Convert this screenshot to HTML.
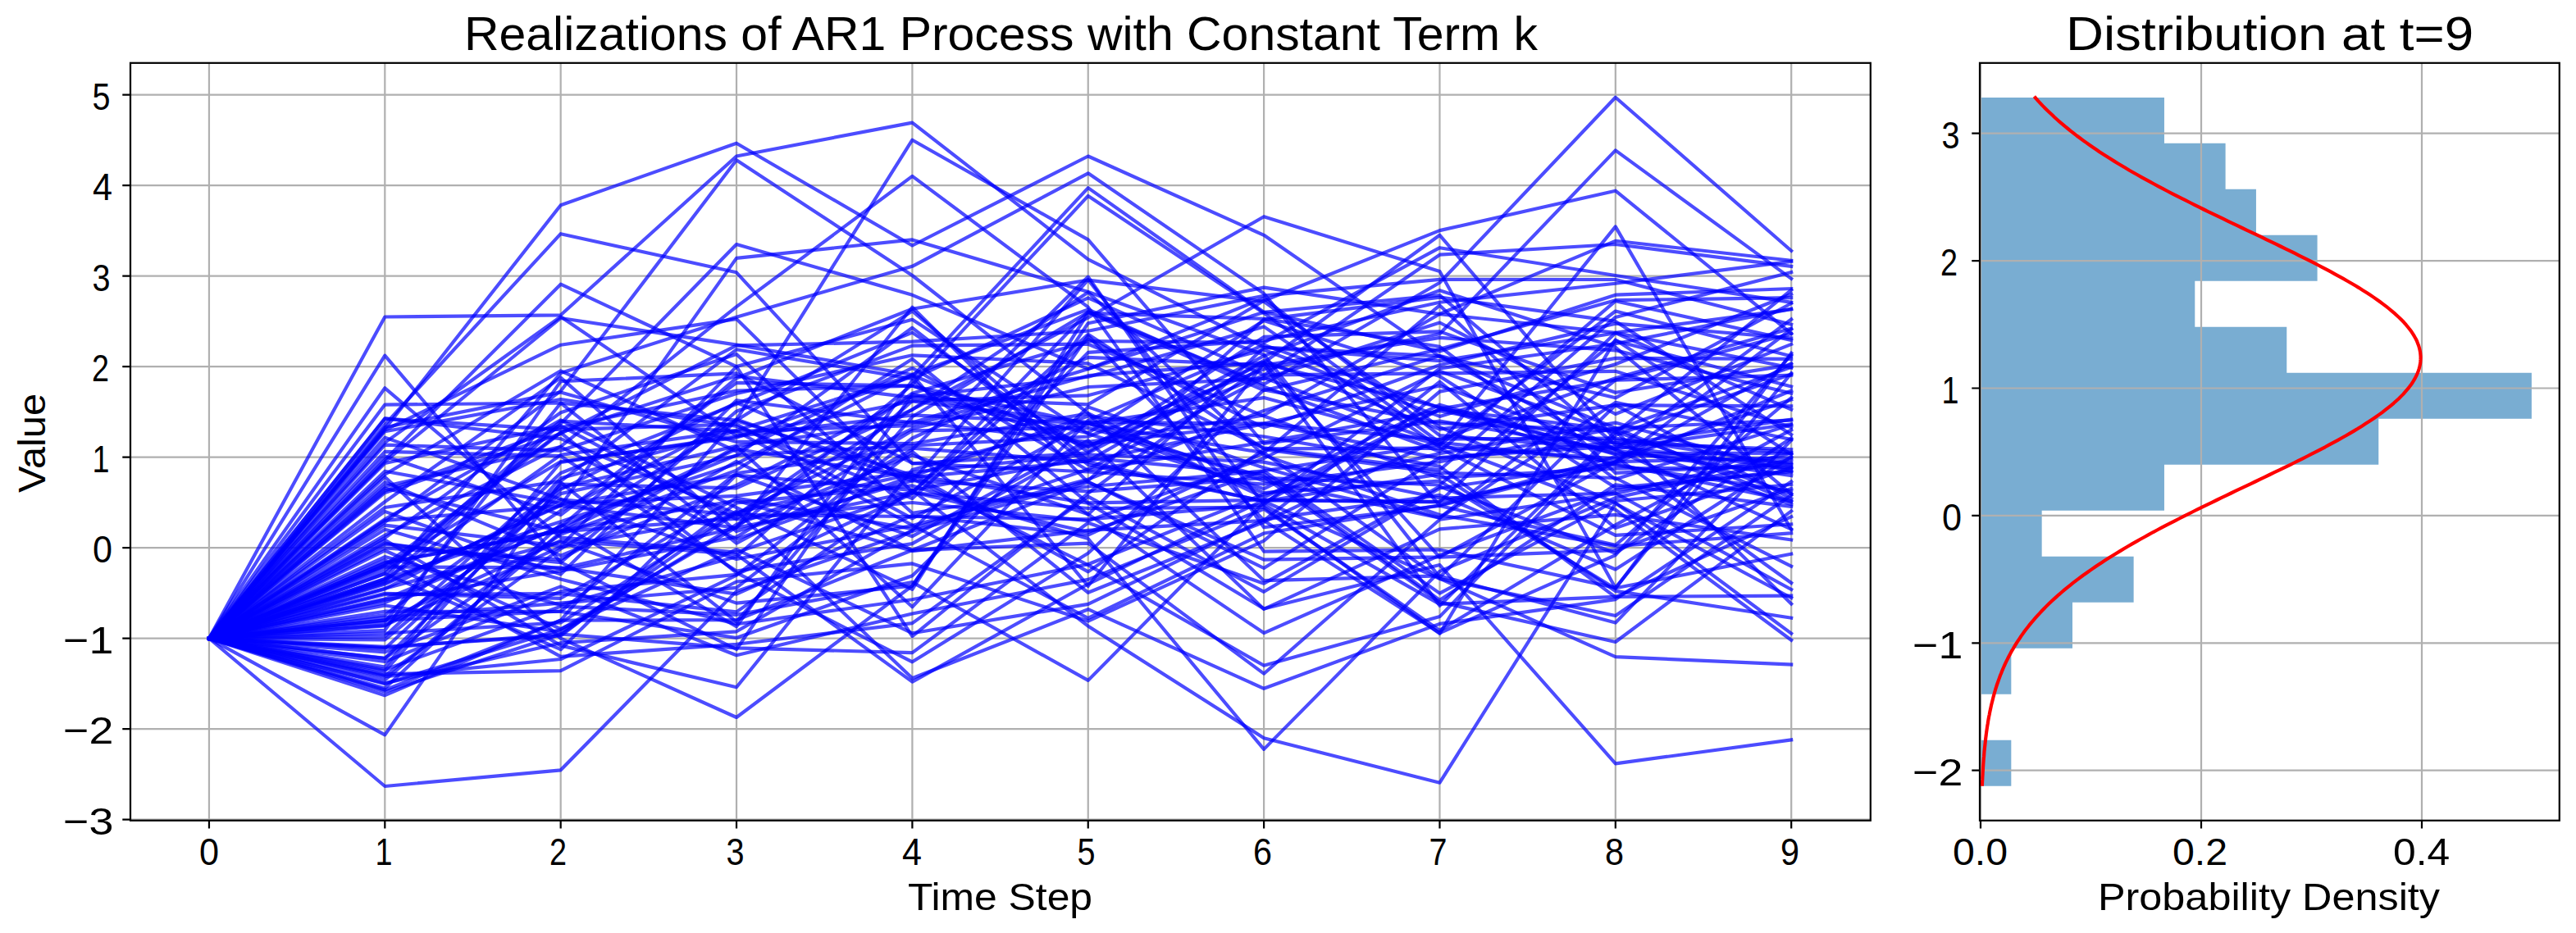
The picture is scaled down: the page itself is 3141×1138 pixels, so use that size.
<!DOCTYPE html><html><head><meta charset="utf-8"><style>html,body{margin:0;padding:0;background:#fff;overflow:hidden}svg{display:block}text{font-family:"Liberation Sans",sans-serif;fill:#000}</style></head><body>
<svg width="3141" height="1138" viewBox="0 0 3141 1138">
<rect width="3141" height="1138" fill="#fff"/>
<defs><clipPath id="c1"><rect x="159.0" y="76.8" width="2121.8" height="924.0"/></clipPath><clipPath id="c2"><rect x="2414.0" y="76.8" width="706.8000000000002" height="924.0"/></clipPath></defs>
<path d="M254.95 76.8V1000.8M469.31 76.8V1000.8M683.67 76.8V1000.8M898.03 76.8V1000.8M1112.39 76.8V1000.8M1326.75 76.8V1000.8M1541.11 76.8V1000.8M1755.47 76.8V1000.8M1969.83 76.8V1000.8M2184.19 76.8V1000.8M159.0 999.60H2280.8M159.0 889.10H2280.8M159.0 778.60H2280.8M159.0 668.10H2280.8M159.0 557.60H2280.8M159.0 447.10H2280.8M159.0 336.60H2280.8M159.0 226.10H2280.8M159.0 115.60H2280.8" stroke="#b0b0b0" stroke-width="2.22" fill="none" stroke-linecap="butt"/>
<g clip-path="url(#c1)" fill="none" stroke="#0000ff" stroke-opacity="0.7" stroke-width="4.17" stroke-linejoin="round" stroke-linecap="square">
<path d="M254.9 778.6 L469.3 386.5 L683.7 384.3 L898.0 190.5 L1112.4 149.6 L1326.8 316.3 L1541.1 423.5 L1755.5 434.4 L1969.8 522.1 L2184.2 611.9"/>
<path d="M254.9 778.6 L469.3 523.3 L683.7 250.2 L898.0 174.7 L1112.4 299.5 L1326.8 190.5 L1541.1 286.8 L1755.5 434.9 L1969.8 548.3 L2184.2 645.6"/>
<path d="M254.9 778.6 L469.3 636.9 L683.7 476.9 L898.0 195.3 L1112.4 336.0 L1326.8 504.2 L1541.1 606.8 L1755.5 498.6 L1969.8 463.6 L2184.2 457.6"/>
<path d="M254.9 778.6 L469.3 517.8 L683.7 285.2 L898.0 332.3 L1112.4 565.3 L1326.8 552.4 L1541.1 441.9 L1755.5 679.6 L1969.8 671.1 L2184.2 595.9"/>
<path d="M254.9 778.6 L469.3 763.4 L683.7 622.9 L898.0 512.0 L1112.4 170.7 L1326.8 292.4 L1541.1 541.0 L1755.5 513.5 L1969.8 549.2 L2184.2 580.1"/>
<path d="M254.9 778.6 L469.3 652.9 L683.7 544.6 L898.0 374.2 L1112.4 214.9 L1326.8 374.6 L1541.1 672.6 L1755.5 670.5 L1969.8 716.9 L2184.2 455.2"/>
<path d="M254.9 778.6 L469.3 709.2 L683.7 516.7 L898.0 298.0 L1112.4 359.8 L1326.8 450.1 L1541.1 363.6 L1755.5 531.2 L1969.8 547.2 L2184.2 517.3"/>
<path d="M254.9 778.6 L469.3 634.8 L683.7 616.9 L898.0 314.9 L1112.4 292.4 L1326.8 356.0 L1541.1 432.6 L1755.5 704.1 L1969.8 494.2 L2184.2 495.4"/>
<path d="M254.9 778.6 L469.3 706.1 L683.7 455.1 L898.0 386.8 L1112.4 324.8 L1326.8 211.3 L1541.1 358.0 L1755.5 616.8 L1969.8 563.2 L2184.2 443.2"/>
<path d="M254.9 778.6 L469.3 690.3 L683.7 563.0 L898.0 533.8 L1112.4 459.3 L1326.8 229.1 L1541.1 380.8 L1755.5 360.1 L1969.8 542.7 L2184.2 511.7"/>
<path d="M254.9 778.6 L469.3 711.3 L683.7 616.7 L898.0 643.7 L1112.4 469.2 L1326.8 238.9 L1541.1 381.9 L1755.5 539.7 L1969.8 563.6 L2184.2 401.5"/>
<path d="M254.9 778.6 L469.3 595.4 L683.7 648.3 L898.0 632.6 L1112.4 499.5 L1326.8 387.5 L1541.1 264.2 L1755.5 331.1 L1969.8 717.3 L2184.2 675.7"/>
<path d="M254.9 778.6 L469.3 689.4 L683.7 527.2 L898.0 458.6 L1112.4 484.9 L1326.8 493.4 L1541.1 366.7 L1755.5 281.1 L1969.8 232.7 L2184.2 406.7"/>
<path d="M254.9 778.6 L469.3 699.6 L683.7 513.6 L898.0 526.0 L1112.4 519.1 L1326.8 458.2 L1541.1 442.2 L1755.5 286.8 L1969.8 536.6 L2184.2 552.0"/>
<path d="M254.9 778.6 L469.3 762.7 L683.7 667.2 L898.0 628.5 L1112.4 479.7 L1326.8 416.0 L1541.1 418.0 L1755.5 302.2 L1969.8 336.0 L2184.2 368.8"/>
<path d="M254.9 778.6 L469.3 707.7 L683.7 554.9 L898.0 524.9 L1112.4 457.8 L1326.8 544.3 L1541.1 457.7 L1755.5 310.7 L1969.8 298.0 L2184.2 324.8"/>
<path d="M254.9 778.6 L469.3 807.0 L683.7 721.4 L898.0 700.8 L1112.4 602.0 L1326.8 380.2 L1541.1 468.8 L1755.5 344.8 L1969.8 118.7 L2184.2 305.9"/>
<path d="M254.9 778.6 L469.3 735.1 L683.7 642.0 L898.0 555.4 L1112.4 543.5 L1326.8 532.5 L1541.1 450.4 L1755.5 407.3 L1969.8 183.4 L2184.2 339.9"/>
<path d="M254.9 778.6 L469.3 662.5 L683.7 693.8 L898.0 643.7 L1112.4 600.3 L1326.8 649.0 L1541.1 574.2 L1755.5 542.1 L1969.8 276.4 L2184.2 646.0"/>
<path d="M254.9 778.6 L469.3 750.1 L683.7 594.9 L898.0 543.9 L1112.4 514.2 L1326.8 539.0 L1541.1 506.5 L1755.5 383.0 L1969.8 293.8 L2184.2 317.8"/>
<path d="M254.9 778.6 L469.3 560.9 L683.7 346.7 L898.0 447.1 L1112.4 776.1 L1326.8 601.5 L1541.1 444.7 L1755.5 738.7 L1969.8 526.2 L2184.2 602.7"/>
<path d="M254.9 778.6 L469.3 563.1 L683.7 388.0 L898.0 420.6 L1112.4 457.0 L1326.8 714.8 L1541.1 443.5 L1755.5 496.7 L1969.8 553.3 L2184.2 552.7"/>
<path d="M254.9 778.6 L469.3 524.5 L683.7 420.7 L898.0 389.1 L1112.4 600.1 L1326.8 407.8 L1541.1 547.4 L1755.5 546.7 L1969.8 652.9 L2184.2 639.4"/>
<path d="M254.9 778.6 L469.3 433.6 L683.7 685.8 L898.0 792.0 L1112.4 480.9 L1326.8 528.1 L1541.1 390.9 L1755.5 459.0 L1969.8 594.8 L2184.2 575.6"/>
<path d="M254.9 778.6 L469.3 473.3 L683.7 655.5 L898.0 673.7 L1112.4 601.2 L1326.8 620.0 L1541.1 618.7 L1755.5 772.9 L1969.8 414.4 L2184.2 554.4"/>
<path d="M254.9 778.6 L469.3 493.6 L683.7 491.5 L898.0 662.7 L1112.4 548.4 L1326.8 337.6 L1541.1 643.2 L1755.5 617.0 L1969.8 664.9 L2184.2 485.3"/>
<path d="M254.9 778.6 L469.3 510.7 L683.7 524.2 L898.0 517.4 L1112.4 632.3 L1326.8 516.4 L1541.1 601.2 L1755.5 586.7 L1969.8 718.0 L2184.2 430.6"/>
<path d="M254.9 778.6 L469.3 539.9 L683.7 386.3 L898.0 531.5 L1112.4 489.4 L1326.8 515.1 L1541.1 586.4 L1755.5 631.7 L1969.8 490.9 L2184.2 536.1"/>
<path d="M254.9 778.6 L469.3 959.0 L683.7 939.3 L898.0 721.1 L1112.4 647.9 L1326.8 586.3 L1541.1 389.6 L1755.5 362.6 L1969.8 391.9 L2184.2 530.2"/>
<path d="M254.9 778.6 L469.3 896.4 L683.7 588.5 L898.0 758.4 L1112.4 508.3 L1326.8 380.9 L1541.1 476.2 L1755.5 425.8 L1969.8 366.2 L2184.2 363.1"/>
<path d="M254.9 778.6 L469.3 848.2 L683.7 756.5 L898.0 511.4 L1112.4 586.7 L1326.8 341.2 L1541.1 615.3 L1755.5 449.4 L1969.8 419.3 L2184.2 376.8"/>
<path d="M254.9 778.6 L469.3 581.8 L683.7 778.6 L898.0 875.0 L1112.4 714.5 L1326.8 409.5 L1541.1 634.8 L1755.5 465.6 L1969.8 644.1 L2184.2 570.1"/>
<path d="M254.9 778.6 L469.3 658.6 L683.7 787.4 L898.0 838.3 L1112.4 573.1 L1326.8 514.8 L1541.1 516.6 L1755.5 559.1 L1969.8 539.6 L2184.2 615.3"/>
<path d="M254.9 778.6 L469.3 816.8 L683.7 739.6 L898.0 749.9 L1112.4 710.1 L1326.8 829.9 L1541.1 612.9 L1755.5 499.4 L1969.8 524.0 L2184.2 447.8"/>
<path d="M254.9 778.6 L469.3 790.0 L683.7 773.5 L898.0 790.3 L1112.4 796.1 L1326.8 637.7 L1541.1 711.7 L1755.5 593.4 L1969.8 674.7 L2184.2 534.4"/>
<path d="M254.9 778.6 L469.3 695.9 L683.7 527.8 L898.0 698.6 L1112.4 807.3 L1326.8 674.7 L1541.1 475.4 L1755.5 516.1 L1969.8 525.6 L2184.2 736.5"/>
<path d="M254.9 778.6 L469.3 756.4 L683.7 659.3 L898.0 676.2 L1112.4 831.6 L1326.8 712.3 L1541.1 610.1 L1755.5 612.3 L1969.8 405.9 L2184.2 448.6"/>
<path d="M254.9 778.6 L469.3 772.5 L683.7 759.4 L898.0 623.5 L1112.4 827.2 L1326.8 743.2 L1541.1 839.8 L1755.5 760.9 L1969.8 731.1 L2184.2 587.5"/>
<path d="M254.9 778.6 L469.3 788.8 L683.7 775.5 L898.0 613.4 L1112.4 592.4 L1326.8 657.1 L1541.1 913.9 L1755.5 696.8 L1969.8 607.1 L2184.2 560.3"/>
<path d="M254.9 778.6 L469.3 712.5 L683.7 615.7 L898.0 579.5 L1112.4 597.9 L1326.8 763.7 L1541.1 900.2 L1755.5 954.7 L1969.8 614.0 L2184.2 729.3"/>
<path d="M254.9 778.6 L469.3 668.4 L683.7 682.5 L898.0 562.8 L1112.4 671.1 L1326.8 662.6 L1541.1 821.7 L1755.5 633.8 L1969.8 602.2 L2184.2 552.8"/>
<path d="M254.9 778.6 L469.3 802.9 L683.7 597.0 L898.0 491.0 L1112.4 583.8 L1326.8 689.1 L1541.1 811.8 L1755.5 752.1 L1969.8 530.7 L2184.2 456.4"/>
<path d="M254.9 778.6 L469.3 686.8 L683.7 647.1 L898.0 610.5 L1112.4 672.1 L1326.8 646.9 L1541.1 635.0 L1755.5 772.0 L1969.8 677.2 L2184.2 432.6"/>
<path d="M254.9 778.6 L469.3 686.3 L683.7 648.1 L898.0 513.2 L1112.4 579.5 L1326.8 613.6 L1541.1 742.4 L1755.5 689.1 L1969.8 931.4 L2184.2 902.4"/>
<path d="M254.9 778.6 L469.3 598.8 L683.7 521.5 L898.0 476.5 L1112.4 470.7 L1326.8 517.0 L1541.1 552.3 L1755.5 705.7 L1969.8 801.1 L2184.2 810.6"/>
<path d="M254.9 778.6 L469.3 731.6 L683.7 696.4 L898.0 655.0 L1112.4 525.3 L1326.8 521.7 L1541.1 581.5 L1755.5 734.4 L1969.8 783.0 L2184.2 623.3"/>
<path d="M254.9 778.6 L469.3 756.6 L683.7 745.5 L898.0 577.2 L1112.4 546.7 L1326.8 563.5 L1541.1 611.5 L1755.5 705.9 L1969.8 751.0 L2184.2 604.0"/>
<path d="M254.9 778.6 L469.3 718.4 L683.7 609.4 L898.0 627.9 L1112.4 630.0 L1326.8 633.4 L1541.1 615.6 L1755.5 736.9 L1969.8 727.8 L2184.2 726.7"/>
<path d="M254.9 778.6 L469.3 723.8 L683.7 729.8 L898.0 607.5 L1112.4 645.1 L1326.8 572.3 L1541.1 460.7 L1755.5 541.0 L1969.8 621.7 L2184.2 780.8"/>
<path d="M254.9 778.6 L469.3 843.8 L683.7 773.8 L898.0 625.0 L1112.4 578.3 L1326.8 697.4 L1541.1 548.1 L1755.5 576.6 L1969.8 583.0 L2184.2 690.8"/>
<path d="M254.9 778.6 L469.3 839.4 L683.7 639.4 L898.0 764.3 L1112.4 463.9 L1326.8 627.5 L1541.1 424.0 L1755.5 440.2 L1969.8 406.2 L2184.2 499.5"/>
<path d="M254.9 778.6 L469.3 833.9 L683.7 767.7 L898.0 643.3 L1112.4 374.7 L1326.8 588.2 L1541.1 682.6 L1755.5 679.3 L1969.8 563.1 L2184.2 558.4"/>
<path d="M254.9 778.6 L469.3 829.4 L683.7 649.4 L898.0 547.7 L1112.4 582.2 L1326.8 562.5 L1541.1 517.0 L1755.5 536.2 L1969.8 461.2 L2184.2 400.5"/>
<path d="M254.9 778.6 L469.3 823.9 L683.7 669.4 L898.0 544.6 L1112.4 740.3 L1326.8 512.8 L1541.1 420.6 L1755.5 497.4 L1969.8 567.5 L2184.2 598.9"/>
<path d="M254.9 778.6 L469.3 818.4 L683.7 583.2 L898.0 526.0 L1112.4 640.5 L1326.8 754.0 L1541.1 650.5 L1755.5 616.2 L1969.8 556.9 L2184.2 711.0"/>
<path d="M254.9 778.6 L469.3 542.7 L683.7 549.6 L898.0 479.9 L1112.4 433.3 L1326.8 443.3 L1541.1 546.4 L1755.5 573.2 L1969.8 386.9 L2184.2 332.0"/>
<path d="M254.9 778.6 L469.3 565.0 L683.7 519.3 L898.0 633.4 L1112.4 613.0 L1326.8 635.2 L1541.1 559.0 L1755.5 452.8 L1969.8 528.1 L2184.2 353.8"/>
<path d="M254.9 778.6 L469.3 550.9 L683.7 556.2 L898.0 696.6 L1112.4 663.1 L1326.8 541.8 L1541.1 516.5 L1755.5 470.5 L1969.8 548.0 L2184.2 389.5"/>
<path d="M254.9 778.6 L469.3 745.7 L683.7 745.9 L898.0 778.0 L1112.4 702.2 L1326.8 496.4 L1541.1 570.6 L1755.5 631.6 L1969.8 463.6 L2184.2 407.1"/>
<path d="M254.9 778.6 L469.3 619.0 L683.7 586.9 L898.0 426.3 L1112.4 462.0 L1326.8 363.3 L1541.1 457.3 L1755.5 455.4 L1969.8 452.8 L2184.2 521.2"/>
<path d="M254.9 778.6 L469.3 679.1 L683.7 737.9 L898.0 679.0 L1112.4 488.9 L1326.8 482.3 L1541.1 426.8 L1755.5 507.9 L1969.8 444.3 L2184.2 358.8"/>
<path d="M254.9 778.6 L469.3 738.5 L683.7 770.8 L898.0 639.7 L1112.4 555.2 L1326.8 627.3 L1541.1 772.1 L1755.5 677.3 L1969.8 597.7 L2184.2 573.7"/>
<path d="M254.9 778.6 L469.3 706.1 L683.7 636.2 L898.0 565.7 L1112.4 456.8 L1326.8 377.4 L1541.1 471.6 L1755.5 550.7 L1969.8 367.2 L2184.2 414.9"/>
<path d="M254.9 778.6 L469.3 813.5 L683.7 564.0 L898.0 532.1 L1112.4 506.4 L1326.8 516.4 L1541.1 485.1 L1755.5 542.8 L1969.8 379.5 L2184.2 434.5"/>
<path d="M254.9 778.6 L469.3 822.1 L683.7 818.2 L898.0 709.5 L1112.4 687.4 L1326.8 757.6 L1541.1 659.6 L1755.5 477.6 L1969.8 436.9 L2184.2 437.8"/>
<path d="M254.9 778.6 L469.3 600.9 L683.7 528.9 L898.0 421.4 L1112.4 416.7 L1326.8 403.7 L1541.1 360.7 L1755.5 340.8 L1969.8 341.0 L2184.2 395.8"/>
<path d="M254.9 778.6 L469.3 691.5 L683.7 692.4 L898.0 724.6 L1112.4 628.7 L1326.8 652.7 L1541.1 552.4 L1755.5 372.4 L1969.8 576.9 L2184.2 566.0"/>
<path d="M254.9 778.6 L469.3 645.8 L683.7 706.4 L898.0 761.3 L1112.4 731.2 L1326.8 688.3 L1541.1 602.7 L1755.5 553.1 L1969.8 515.6 L2184.2 575.7"/>
<path d="M254.9 778.6 L469.3 578.7 L683.7 452.3 L898.0 550.5 L1112.4 448.8 L1326.8 573.8 L1541.1 539.4 L1755.5 501.1 L1969.8 540.0 L2184.2 548.2"/>
<path d="M254.9 778.6 L469.3 833.4 L683.7 784.2 L898.0 770.3 L1112.4 646.9 L1326.8 429.9 L1541.1 415.5 L1755.5 368.8 L1969.8 345.7 L2184.2 318.9"/>
<path d="M254.9 778.6 L469.3 768.8 L683.7 465.1 L898.0 455.4 L1112.4 565.0 L1326.8 575.5 L1541.1 590.5 L1755.5 563.3 L1969.8 522.4 L2184.2 512.4"/>
<path d="M254.9 778.6 L469.3 663.8 L683.7 686.2 L898.0 501.7 L1112.4 421.6 L1326.8 419.7 L1541.1 507.5 L1755.5 582.7 L1969.8 571.3 L2184.2 570.2"/>
<path d="M254.9 778.6 L469.3 633.3 L683.7 512.3 L898.0 619.1 L1112.4 718.9 L1326.8 381.9 L1541.1 388.8 L1755.5 422.8 L1969.8 584.6 L2184.2 518.0"/>
<path d="M254.9 778.6 L469.3 717.8 L683.7 660.9 L898.0 735.6 L1112.4 714.7 L1326.8 394.2 L1541.1 350.6 L1755.5 383.1 L1969.8 405.7 L2184.2 377.3"/>
<path d="M254.9 778.6 L469.3 574.7 L683.7 614.0 L898.0 604.9 L1112.4 575.7 L1326.8 554.5 L1541.1 563.6 L1755.5 607.5 L1969.8 601.5 L2184.2 719.0"/>
<path d="M254.9 778.6 L469.3 656.1 L683.7 503.3 L898.0 432.1 L1112.4 625.8 L1326.8 593.5 L1541.1 574.4 L1755.5 723.6 L1969.8 611.0 L2184.2 590.9"/>
<path d="M254.9 778.6 L469.3 795.4 L683.7 715.4 L898.0 799.3 L1112.4 748.5 L1326.8 706.9 L1541.1 620.8 L1755.5 768.9 L1969.8 640.4 L2184.2 524.3"/>
<path d="M254.9 778.6 L469.3 776.1 L683.7 577.0 L898.0 492.8 L1112.4 405.6 L1326.8 551.2 L1541.1 410.9 L1755.5 404.4 L1969.8 478.8 L2184.2 444.9"/>
<path d="M254.9 778.6 L469.3 593.1 L683.7 545.0 L898.0 657.6 L1112.4 580.8 L1326.8 507.5 L1541.1 532.5 L1755.5 568.9 L1969.8 728.4 L2184.2 630.2"/>
<path d="M254.9 778.6 L469.3 623.9 L683.7 700.6 L898.0 488.3 L1112.4 515.6 L1326.8 449.9 L1541.1 380.7 L1755.5 428.4 L1969.8 359.7 L2184.2 352.1"/>
<path d="M254.9 778.6 L469.3 841.6 L683.7 756.7 L898.0 756.2 L1112.4 671.0 L1326.8 587.7 L1541.1 693.0 L1755.5 558.0 L1969.8 544.5 L2184.2 570.9"/>
<path d="M254.9 778.6 L469.3 526.2 L683.7 487.0 L898.0 519.9 L1112.4 608.0 L1326.8 413.5 L1541.1 521.6 L1755.5 445.2 L1969.8 394.6 L2184.2 412.4"/>
<path d="M254.9 778.6 L469.3 612.0 L683.7 460.6 L898.0 648.1 L1112.4 586.2 L1326.8 599.4 L1541.1 582.9 L1755.5 591.5 L1969.8 415.7 L2184.2 471.4"/>
<path d="M254.9 778.6 L469.3 533.6 L683.7 608.9 L898.0 682.0 L1112.4 641.0 L1326.8 584.6 L1541.1 500.9 L1755.5 434.1 L1969.8 485.3 L2184.2 370.0"/>
<path d="M254.9 778.6 L469.3 730.6 L683.7 642.7 L898.0 461.2 L1112.4 376.8 L1326.8 341.6 L1541.1 367.7 L1755.5 520.9 L1969.8 613.4 L2184.2 772.7"/>
<path d="M254.9 778.6 L469.3 699.7 L683.7 792.2 L898.0 579.0 L1112.4 654.2 L1326.8 537.2 L1541.1 742.9 L1755.5 645.3 L1969.8 627.9 L2184.2 658.4"/>
<path d="M254.9 778.6 L469.3 791.3 L683.7 590.5 L898.0 595.4 L1112.4 499.6 L1326.8 356.5 L1541.1 555.4 L1755.5 628.0 L1969.8 666.1 L2184.2 650.2"/>
<path d="M254.9 778.6 L469.3 510.4 L683.7 535.2 L898.0 626.8 L1112.4 522.8 L1326.8 472.0 L1541.1 461.9 L1755.5 393.5 L1969.8 505.0 L2184.2 419.9"/>
<path d="M254.9 778.6 L469.3 683.2 L683.7 800.8 L898.0 785.8 L1112.4 760.1 L1326.8 605.7 L1541.1 721.8 L1755.5 595.5 L1969.8 564.5 L2184.2 476.5"/>
<path d="M254.9 778.6 L469.3 521.2 L683.7 478.4 L898.0 538.9 L1112.4 541.2 L1326.8 504.4 L1541.1 708.2 L1755.5 702.4 L1969.8 759.6 L2184.2 536.9"/>
<path d="M254.9 778.6 L469.3 758.8 L683.7 491.7 L898.0 512.7 L1112.4 379.4 L1326.8 562.4 L1541.1 439.7 L1755.5 523.6 L1969.8 494.1 L2184.2 608.2"/>
<path d="M254.9 778.6 L469.3 671.5 L683.7 767.1 L898.0 670.1 L1112.4 772.3 L1326.8 736.9 L1541.1 633.6 L1755.5 603.9 L1969.8 694.5 L2184.2 557.2"/>
<path d="M254.9 778.6 L469.3 825.3 L683.7 804.0 L898.0 701.7 L1112.4 534.5 L1326.8 435.9 L1541.1 445.6 L1755.5 411.9 L1969.8 427.3 L2184.2 479.8"/>
<path d="M254.9 778.6 L469.3 724.9 L683.7 724.2 L898.0 746.4 L1112.4 597.8 L1326.8 558.7 L1541.1 577.9 L1755.5 732.0 L1969.8 591.2 L2184.2 617.8"/>
<path d="M254.9 778.6 L469.3 588.2 L683.7 677.7 L898.0 591.9 L1112.4 483.8 L1326.8 459.8 L1541.1 398.4 L1755.5 545.3 L1969.8 559.3 L2184.2 487.4"/>
<path d="M254.9 778.6 L469.3 803.0 L683.7 651.9 L898.0 573.6 L1112.4 437.8 L1326.8 613.4 L1541.1 609.8 L1755.5 611.9 L1969.8 565.7 L2184.2 611.2"/>
<path d="M254.9 778.6 L469.3 556.4 L683.7 628.1 L898.0 466.8 L1112.4 470.6 L1326.8 545.6 L1541.1 434.1 L1755.5 354.2 L1969.8 423.6 L2184.2 602.5"/>
<path d="M254.9 778.6 L469.3 640.6 L683.7 666.1 L898.0 447.1 L1112.4 389.8 L1326.8 529.0 L1541.1 596.2 L1755.5 493.7 L1969.8 554.2 L2184.2 563.9"/>
<path d="M254.9 778.6 L469.3 780.4 L683.7 602.1 L898.0 555.7 L1112.4 399.8 L1326.8 566.9 L1541.1 611.2 L1755.5 578.4 L1969.8 720.9 L2184.2 753.7"/>
<path d="M254.9 778.6 L469.3 753.1 L683.7 735.6 L898.0 716.8 L1112.4 550.9 L1326.8 722.8 L1541.1 636.7 L1755.5 535.5 L1969.8 534.6 L2184.2 566.8"/>
</g>
<path d="M2414.0 118.88H2638.96V174.87H2414.0ZM2414.0 174.87H2713.61V230.87H2414.0ZM2414.0 230.87H2750.94V286.86H2414.0ZM2414.0 286.86H2825.59V342.86H2414.0ZM2414.0 342.86H2676.29V398.86H2414.0ZM2414.0 398.86H2788.27V454.85H2414.0ZM2414.0 454.85H3086.88V510.85H2414.0ZM2414.0 510.85H2900.25V566.84H2414.0ZM2414.0 566.84H2638.96V622.84H2414.0ZM2414.0 622.84H2489.65V678.84H2414.0ZM2414.0 678.84H2601.63V734.83H2414.0ZM2414.0 734.83H2526.98V790.83H2414.0ZM2414.0 790.83H2452.33V846.82H2414.0ZM2414.0 902.82H2452.33V958.81H2414.0Z" fill="rgb(121,173,210)"/>
<path d="M2415.00 76.8V1000.8M2684.00 76.8V1000.8M2953.00 76.8V1000.8M2414.0 939.70H3120.8M2414.0 784.30H3120.8M2414.0 628.90H3120.8M2414.0 473.50H3120.8M2414.0 318.10H3120.8M2414.0 162.70H3120.8" stroke="#b0b0b0" stroke-width="2.22" fill="none"/>
<path d="M2416.9 958.8 L2417.0 956.0 L2417.1 953.2 L2417.3 950.4 L2417.4 947.6 L2417.6 944.7 L2417.7 941.9 L2417.9 939.1 L2418.0 936.3 L2418.2 933.5 L2418.4 930.7 L2418.6 927.9 L2418.8 925.1 L2419.1 922.2 L2419.3 919.4 L2419.5 916.6 L2419.8 913.8 L2420.1 911.0 L2420.4 908.2 L2420.7 905.4 L2421.0 902.5 L2421.3 899.7 L2421.7 896.9 L2422.0 894.1 L2422.4 891.3 L2422.8 888.5 L2423.2 885.7 L2423.7 882.9 L2424.1 880.0 L2424.6 877.2 L2425.1 874.4 L2425.7 871.6 L2426.2 868.8 L2426.8 866.0 L2427.4 863.2 L2428.0 860.3 L2428.7 857.5 L2429.4 854.7 L2430.1 851.9 L2430.8 849.1 L2431.6 846.3 L2432.4 843.5 L2433.2 840.7 L2434.1 837.8 L2435.0 835.0 L2436.0 832.2 L2437.0 829.4 L2438.0 826.6 L2439.0 823.8 L2440.2 821.0 L2441.3 818.1 L2442.5 815.3 L2443.7 812.5 L2445.0 809.7 L2446.3 806.9 L2447.7 804.1 L2449.1 801.3 L2450.6 798.5 L2452.1 795.6 L2453.7 792.8 L2455.4 790.0 L2457.1 787.2 L2458.8 784.4 L2460.6 781.6 L2462.5 778.8 L2464.4 775.9 L2466.4 773.1 L2468.4 770.3 L2470.5 767.5 L2472.7 764.7 L2474.9 761.9 L2477.2 759.1 L2479.6 756.3 L2482.1 753.4 L2484.6 750.6 L2487.2 747.8 L2489.8 745.0 L2492.5 742.2 L2495.3 739.4 L2498.2 736.6 L2501.1 733.7 L2504.2 730.9 L2507.3 728.1 L2510.4 725.3 L2513.7 722.5 L2517.0 719.7 L2520.4 716.9 L2523.9 714.1 L2527.5 711.2 L2531.1 708.4 L2534.8 705.6 L2538.6 702.8 L2542.5 700.0 L2546.4 697.2 L2550.5 694.4 L2554.6 691.5 L2558.7 688.7 L2563.0 685.9 L2567.4 683.1 L2571.8 680.3 L2576.3 677.5 L2580.8 674.7 L2585.5 671.9 L2590.2 669.0 L2594.9 666.2 L2599.8 663.4 L2604.7 660.6 L2609.7 657.8 L2614.8 655.0 L2619.9 652.2 L2625.0 649.3 L2630.3 646.5 L2635.6 643.7 L2640.9 640.9 L2646.3 638.1 L2651.8 635.3 L2657.3 632.5 L2662.9 629.7 L2668.5 626.8 L2674.1 624.0 L2679.8 621.2 L2685.5 618.4 L2691.2 615.6 L2697.0 612.8 L2702.8 610.0 L2708.6 607.2 L2714.5 604.3 L2720.4 601.5 L2726.2 598.7 L2732.1 595.9 L2738.0 593.1 L2743.9 590.3 L2749.8 587.5 L2755.7 584.6 L2761.5 581.8 L2767.4 579.0 L2773.2 576.2 L2779.1 573.4 L2784.8 570.6 L2790.6 567.8 L2796.3 565.0 L2802.0 562.1 L2807.7 559.3 L2813.3 556.5 L2818.8 553.7 L2824.3 550.9 L2829.7 548.1 L2835.1 545.3 L2840.3 542.4 L2845.5 539.6 L2850.7 536.8 L2855.7 534.0 L2860.7 531.2 L2865.6 528.4 L2870.3 525.6 L2875.0 522.8 L2879.6 519.9 L2884.0 517.1 L2888.4 514.3 L2892.6 511.5 L2896.7 508.7 L2900.7 505.9 L2904.6 503.1 L2908.3 500.2 L2911.9 497.4 L2915.4 494.6 L2918.7 491.8 L2921.8 489.0 L2924.9 486.2 L2927.7 483.4 L2930.5 480.6 L2933.0 477.7 L2935.4 474.9 L2937.7 472.1 L2939.8 469.3 L2941.7 466.5 L2943.4 463.7 L2945.0 460.9 L2946.5 458.0 L2947.7 455.2 L2948.8 452.4 L2949.7 449.6 L2950.4 446.8 L2951.0 444.0 L2951.3 441.2 L2951.5 438.4 L2951.6 435.5 L2951.4 432.7 L2951.1 429.9 L2950.6 427.1 L2949.9 424.3 L2949.1 421.5 L2948.0 418.7 L2946.9 415.8 L2945.5 413.0 L2943.9 410.2 L2942.2 407.4 L2940.4 404.6 L2938.3 401.8 L2936.1 399.0 L2933.8 396.2 L2931.3 393.3 L2928.6 390.5 L2925.8 387.7 L2922.8 384.9 L2919.7 382.1 L2916.4 379.3 L2913.0 376.5 L2909.4 373.6 L2905.7 370.8 L2901.9 368.0 L2898.0 365.2 L2893.9 362.4 L2889.7 359.6 L2885.4 356.8 L2880.9 354.0 L2876.4 351.1 L2871.8 348.3 L2867.0 345.5 L2862.2 342.7 L2857.3 339.9 L2852.2 337.1 L2847.1 334.3 L2841.9 331.4 L2836.7 328.6 L2831.3 325.8 L2825.9 323.0 L2820.5 320.2 L2815.0 317.4 L2809.4 314.6 L2803.7 311.8 L2798.1 308.9 L2792.4 306.1 L2786.6 303.3 L2780.8 300.5 L2775.0 297.7 L2769.2 294.9 L2763.3 292.1 L2757.5 289.2 L2751.6 286.4 L2745.7 283.6 L2739.8 280.8 L2733.9 278.0 L2728.0 275.2 L2722.1 272.4 L2716.3 269.6 L2710.4 266.7 L2704.6 263.9 L2698.8 261.1 L2693.0 258.3 L2687.2 255.5 L2681.5 252.7 L2675.8 249.9 L2670.2 247.0 L2664.6 244.2 L2659.0 241.4 L2653.5 238.6 L2648.0 235.8 L2642.6 233.0 L2637.2 230.2 L2631.9 227.4 L2626.6 224.5 L2621.4 221.7 L2616.3 218.9 L2611.2 216.1 L2606.2 213.3 L2601.3 210.5 L2596.4 207.7 L2591.6 204.8 L2586.9 202.0 L2582.2 199.2 L2577.6 196.4 L2573.1 193.6 L2568.7 190.8 L2564.3 188.0 L2560.0 185.2 L2555.8 182.3 L2551.7 179.5 L2547.7 176.7 L2543.7 173.9 L2539.8 171.1 L2536.0 168.3 L2532.2 165.5 L2528.6 162.6 L2525.0 159.8 L2521.5 157.0 L2518.0 154.2 L2514.7 151.4 L2511.4 148.6 L2508.2 145.8 L2505.1 143.0 L2502.1 140.1 L2499.1 137.3 L2496.2 134.5 L2493.4 131.7 L2490.6 128.9 L2488.0 126.1 L2485.4 123.3 L2482.8 120.4 L2480.4 117.6" clip-path="url(#c2)" fill="none" stroke="#ff0000" stroke-width="4.17" stroke-linejoin="round"/>
<path d="M254.95 1000.8V1010.52M469.31 1000.8V1010.52M683.67 1000.8V1010.52M898.03 1000.8V1010.52M1112.39 1000.8V1010.52M1326.75 1000.8V1010.52M1541.11 1000.8V1010.52M1755.47 1000.8V1010.52M1969.83 1000.8V1010.52M2184.19 1000.8V1010.52M159.0 999.60H149.28M159.0 889.10H149.28M159.0 778.60H149.28M159.0 668.10H149.28M159.0 557.60H149.28M159.0 447.10H149.28M159.0 336.60H149.28M159.0 226.10H149.28M159.0 115.60H149.28M2415.00 1000.8V1010.52M2684.00 1000.8V1010.52M2953.00 1000.8V1010.52M2414.0 939.70H2404.28M2414.0 784.30H2404.28M2414.0 628.90H2404.28M2414.0 473.50H2404.28M2414.0 318.10H2404.28M2414.0 162.70H2404.28" stroke="#000" stroke-width="2.22" fill="none"/>
<rect x="159.0" y="76.8" width="2121.8" height="924.0" fill="none" stroke="#000" stroke-width="2.22" stroke-linejoin="miter"/>
<rect x="2414.0" y="76.8" width="706.8000000000002" height="924.0" fill="none" stroke="#000" stroke-width="2.22" stroke-linejoin="miter"/>
<text x="566.00" y="61.00" font-size="56.50" textLength="1309.01" lengthAdjust="spacingAndGlyphs">Realizations of AR1 Process with Constant Term k</text>
<text x="1107.00" y="1110.00" font-size="47.10" textLength="225.04" lengthAdjust="spacingAndGlyphs">Time Step</text>
<text x="54.70" y="601.00" font-size="47.10" textLength="121.03" lengthAdjust="spacingAndGlyphs" transform="rotate(-90 54.70 601.00)">Value</text>
<text x="243.00" y="1054.80" font-size="47.10" textLength="24.00" lengthAdjust="spacingAndGlyphs">0</text>
<text x="457.50" y="1054.80" font-size="47.10" textLength="21.00" lengthAdjust="spacingAndGlyphs">1</text>
<text x="670.00" y="1054.80" font-size="47.10" textLength="21.00" lengthAdjust="spacingAndGlyphs">2</text>
<text x="885.50" y="1054.80" font-size="47.10" textLength="22.00" lengthAdjust="spacingAndGlyphs">3</text>
<text x="1100.00" y="1054.80" font-size="47.10" textLength="24.00" lengthAdjust="spacingAndGlyphs">4</text>
<text x="1313.50" y="1054.80" font-size="47.10" textLength="22.00" lengthAdjust="spacingAndGlyphs">5</text>
<text x="1528.00" y="1054.80" font-size="47.10" textLength="23.00" lengthAdjust="spacingAndGlyphs">6</text>
<text x="1742.50" y="1054.80" font-size="47.10" textLength="22.00" lengthAdjust="spacingAndGlyphs">7</text>
<text x="1957.00" y="1054.80" font-size="47.10" textLength="23.00" lengthAdjust="spacingAndGlyphs">8</text>
<text x="2171.00" y="1054.80" font-size="47.10" textLength="23.00" lengthAdjust="spacingAndGlyphs">9</text>
<text x="77.00" y="1017.80" font-size="47.10" textLength="61.30" lengthAdjust="spacingAndGlyphs">−3</text>
<text x="77.00" y="907.30" font-size="47.10" textLength="61.30" lengthAdjust="spacingAndGlyphs">−2</text>
<text x="77.00" y="796.80" font-size="47.10" textLength="61.30" lengthAdjust="spacingAndGlyphs">−1</text>
<text x="113.00" y="686.30" font-size="47.10" textLength="24.00" lengthAdjust="spacingAndGlyphs">0</text>
<text x="112.50" y="575.80" font-size="47.10" textLength="21.00" lengthAdjust="spacingAndGlyphs">1</text>
<text x="112.00" y="465.30" font-size="47.10" textLength="21.00" lengthAdjust="spacingAndGlyphs">2</text>
<text x="112.50" y="354.80" font-size="47.10" textLength="22.00" lengthAdjust="spacingAndGlyphs">3</text>
<text x="113.00" y="244.30" font-size="47.10" textLength="24.00" lengthAdjust="spacingAndGlyphs">4</text>
<text x="112.50" y="133.80" font-size="47.10" textLength="22.00" lengthAdjust="spacingAndGlyphs">5</text>
<text x="2519.00" y="61.00" font-size="56.50" textLength="497.14" lengthAdjust="spacingAndGlyphs">Distribution at t=9</text>
<text x="2558.00" y="1110.00" font-size="47.10" textLength="417.04" lengthAdjust="spacingAndGlyphs">Probability Density</text>
<text x="2381.00" y="1055.00" font-size="47.10" textLength="67.06" lengthAdjust="spacingAndGlyphs">0.0</text>
<text x="2649.00" y="1055.00" font-size="47.10" textLength="67.15" lengthAdjust="spacingAndGlyphs">0.2</text>
<text x="2918.00" y="1055.00" font-size="47.10" textLength="69.11" lengthAdjust="spacingAndGlyphs">0.4</text>
<text x="2332.00" y="957.90" font-size="47.10" textLength="61.30" lengthAdjust="spacingAndGlyphs">−2</text>
<text x="2332.00" y="802.50" font-size="47.10" textLength="61.30" lengthAdjust="spacingAndGlyphs">−1</text>
<text x="2368.00" y="647.10" font-size="47.10" textLength="24.00" lengthAdjust="spacingAndGlyphs">0</text>
<text x="2367.50" y="491.70" font-size="47.10" textLength="21.00" lengthAdjust="spacingAndGlyphs">1</text>
<text x="2366.00" y="336.30" font-size="47.10" textLength="21.00" lengthAdjust="spacingAndGlyphs">2</text>
<text x="2367.50" y="180.90" font-size="47.10" textLength="22.00" lengthAdjust="spacingAndGlyphs">3</text>
</svg></body></html>
